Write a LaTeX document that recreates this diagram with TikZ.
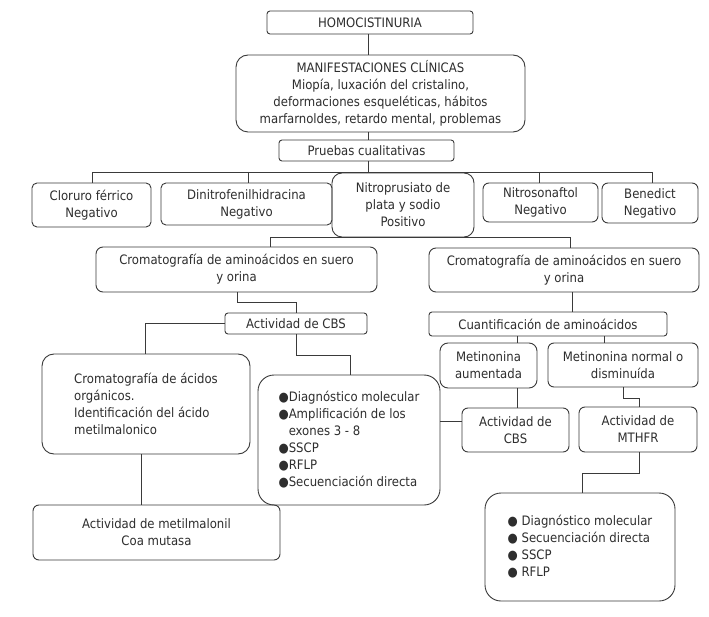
\documentclass[tikz,border=0pt]{standalone}
\usepackage{fontspec}
\setmainfont{DejaVu Sans Condensed}
\usetikzlibrary{calc}
\definecolor{linec}{HTML}{3A3A3A}
\definecolor{textc}{HTML}{2E2E2E}
\newcommand\fsz{\fontsize{13}{17}\selectfont}
\begin{document}
\begin{tikzpicture}[x=1pt,y=-1pt,
  box/.style={draw=linec, line width=0.9pt, rounded corners=#1, inner sep=0pt,
    align=center, font=\fsz, text=textc},
  box/.default=6pt,
  lbox/.style={box=#1, align=left},
  conn/.style={draw=linec, line width=0.9pt}]
\useasboundingbox (0,0) rectangle (709,617);
\fill[white] (0,0) rectangle (709,617);

\node[box=3pt, minimum width=206pt, minimum height=23pt] (homo) at (370,22.5) {HOMOCISTINURIA};
\node[box=12pt, minimum width=289pt, minimum height=77pt] (manif) at (380.5,93.5)
  {MANIFESTACIONES CLÍNICAS\\Miopía, luxación del cristalino,\\deformaciones esqueléticas, hábitos\\marfarnoldes, retardo mental, problemas};
\node[box=3pt, minimum width=175pt, minimum height=21pt] (prueb) at (366.5,150.5) {Pruebas cualitativas};

\node[box=5pt, minimum width=119pt, minimum height=44pt] (clor) at (91.5,205) {Cloruro férrico\\Negativo};
\node[box=5pt, minimum width=171pt, minimum height=42pt] (dini) at (246.5,204) {Dinitrofenilhidracina\\Negativo};
\node[box=10pt, minimum width=142pt, minimum height=64pt] (nitro) at (403,205) {Nitroprusiato de\\plata y sodio\\Positivo};
\node[box=6pt, minimum width=115pt, minimum height=39pt] (nitros) at (540.5,202.5) {Nitrosonaftol\\Negativo};
\node[box=6pt, minimum width=96pt, minimum height=40pt] (bene) at (650,203) {Benedict\\Negativo};

\node[box=7pt, minimum width=281pt, minimum height=45pt] (cromL) at (236.5,269.5) {Cromatografía de aminoácidos en suero\\y orina};
\node[box=7pt, minimum width=270pt, minimum height=44pt] (cromR) at (564,270) {Cromatografía de aminoácidos en suero\\y orina};

\node[box=3pt, minimum width=142pt, minimum height=21pt] (cbsL) at (296,323.5) {Actividad de CBS};
\node[lbox=12pt, minimum width=208pt, minimum height=100pt] (acid) at (146,404)
  {Cromatografía de ácidos\\orgánicos.\\Identificación del ácido\\metilmalonico};
\node[box=6pt, minimum width=247pt, minimum height=55pt] (metil) at (156.5,532.5) {Actividad de metilmalonil\\Coa mutasa};
\node[lbox=16pt, minimum width=182pt, minimum height=130pt] (diag) at (349,440)
  {●Diagnóstico molecular\\●Amplificación de los\\\phantom{●}exones 3 - 8\\●SSCP\\●RFLP\\●Secuenciación directa};

\node[box=3pt, minimum width=238pt, minimum height=24pt] (cuant) at (548,324) {Cuantificación de aminoácidos};
\node[box=8pt, minimum width=97pt, minimum height=45pt] (aum) at (488.5,365.5) {Metinonina\\aumentada};
\node[box=6pt, minimum width=150pt, minimum height=44pt] (norm) at (623,365) {Metinonina normal o\\disminuída};
\node[box=6pt, minimum width=107pt, minimum height=44pt] (cbsR) at (515.5,430) {Actividad de\\CBS};
\node[box=6pt, minimum width=118pt, minimum height=45pt] (mthfr) at (638,429.5) {Actividad de\\MTHFR};
\node[lbox=16pt, minimum width=190pt, minimum height=108pt] (diag2) at (580,547)
  {● Diagnóstico molecular\\● Secuenciación directa\\● SSCP\\● RFLP};

% helper coordinates
\coordinate (tx) at (368,0);

% connectors
\draw[conn] (tx |- homo.south) -- (tx |- manif.north);
\draw[conn] (tx |- manif.south) -- (tx |- prueb.north);
\draw[conn] (tx |- prueb.south) -- (tx |- nitro.north);
\draw[conn] (92,0 |- clor.north) -- (92,172) -- (652,172) -- (652,0 |- bene.north);
\draw[conn] (248,172) -- (248,0 |- dini.north);
\draw[conn] (539,172) -- (539,0 |- nitros.north);

\draw[conn] (270,0 |- cromL.north) -- (270,237.5) -- (570,237.5) -- (570,0 |- cromR.north);

\draw[conn] (237,0 |- cromL.south) -- (237,302) -- (296,302) -- (cbsL.north);
\draw[conn] (cbsL.west) -- (145,323.5) -- (145,0 |- acid.north);
\draw[conn] (141,0 |- acid.south) -- (141,0 |- metil.north);
\draw[conn] (cbsL.south) -- (296,355) -- (350,355) -- (350,0 |- diag.north);
\draw[conn] (diag.east |- 0,421) -- (cbsR.west |- 0,421);

\draw[conn] (572,0 |- cromR.south) -- (572,0 |- cuant.north);
\draw[conn] (517,0 |- cuant.south) -- (517,0 |- aum.north);
\draw[conn] (604,0 |- cuant.south) -- (604,0 |- norm.north);
\draw[conn] (517,0 |- aum.south) -- (517,0 |- cbsR.north);
\draw[conn] (norm.south) -- (623,398) -- (639,398) -- (639,0 |- mthfr.north);
\draw[conn] (639,0 |- mthfr.south) -- (639,473) -- (582,473) -- (582,0 |- diag2.north);
\end{tikzpicture}
\end{document}
